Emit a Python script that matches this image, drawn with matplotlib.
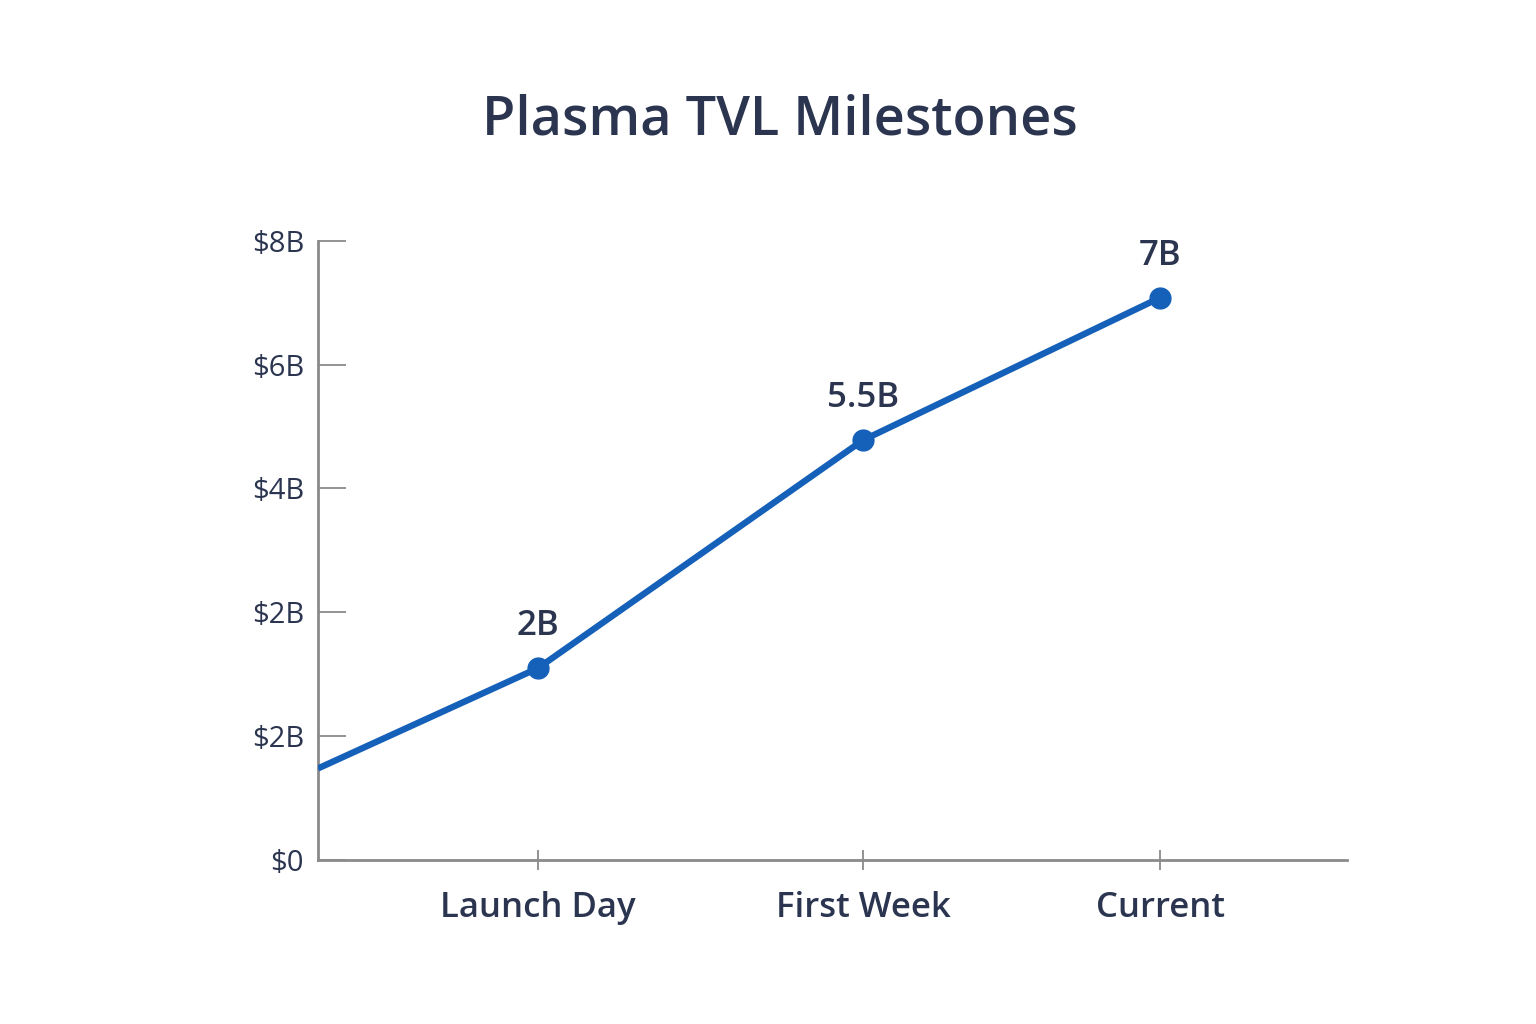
import matplotlib.pyplot as plt

plt.rcParams['font.family'] = ['Open Sans', 'DejaVu Sans']

# chart data (y in tick units, the reference axis is evenly spaced)
categories = ["Launch Day", "First Week", "Current"]
cat_x = [0.677, 1.677, 2.591]
line_x = [0.0, 0.677, 1.677, 2.591]
line_y = [0.74, 1.55, 3.39, 4.54]
point_labels = ["2B", "5.5B", "7B"]
ytick_labels = ["$0", "$2B", "$2B", "$4B", "$6B", "$8B"]

text_col = "#2b3550"
line_col = "#1560b8"
axis_col = "#8a8a8a"

fig = plt.figure(figsize=(15.36, 10.24), dpi=100)
ax = fig.add_axes([0.207, 0.160, 0.670, 0.605])

ax.plot(line_x, line_y, color=line_col, linewidth=4.6, solid_capstyle='butt', zorder=3)
ax.plot(cat_x, line_y[1:], 'o', color=line_col, markersize=15, zorder=4)
for x, y, lab in zip(cat_x, line_y[1:], point_labels):
    ax.annotate(lab, (x, y), xytext=(0, 18), textcoords='offset points',
                ha='center', va='bottom', fontsize=25, color=text_col, fontweight='semibold')

ax.set_xlim(0, 3.166)
ax.set_ylim(0, 5)
ax.set_yticks(range(len(ytick_labels)))
ax.set_yticklabels(ytick_labels, fontsize=21, color=text_col)
ax.set_xticks(cat_x)
ax.set_xticklabels(categories, fontsize=25, color=text_col, fontweight='semibold')
ax.tick_params(axis='y', direction='in', length=20, color=axis_col, width=1.3, pad=10)
ax.tick_params(axis='x', direction='inout', length=14, color=axis_col, width=1.3, pad=15)

for s in ['top', 'right']:
    ax.spines[s].set_visible(False)
for s in ['left', 'bottom']:
    ax.spines[s].set_color(axis_col)
    ax.spines[s].set_linewidth(2)

fig.text(0.508, 0.882, "Plasma TVL Milestones", ha='center', va='center',
         fontsize=39, color=text_col, fontweight='semibold')

fig.savefig("out.png", dpi=100, facecolor='white')
